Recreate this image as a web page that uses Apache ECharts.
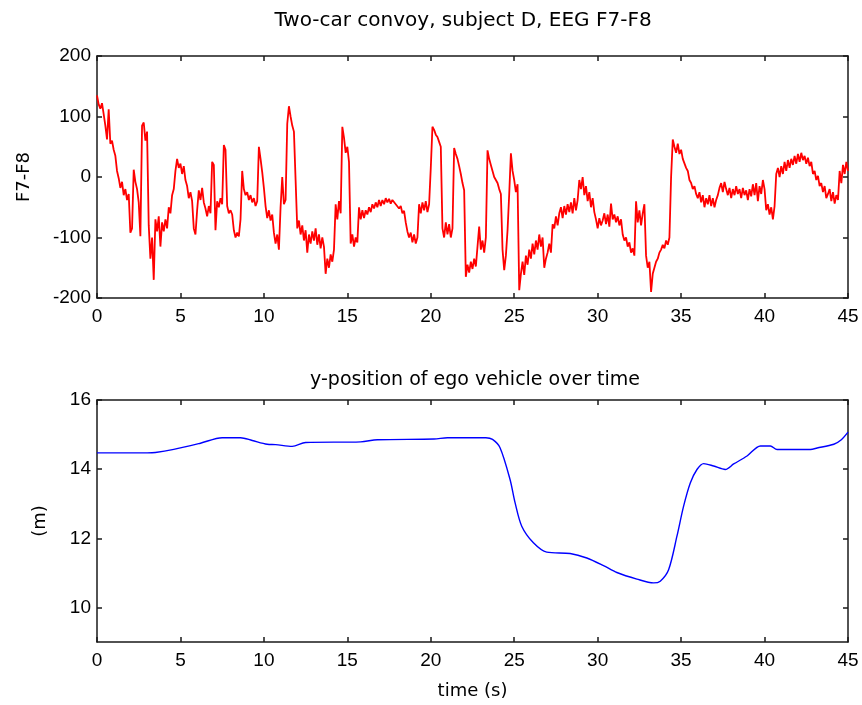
<!DOCTYPE html>
<html>
<head>
<meta charset="utf-8">
<script src="https://cdn.jsdelivr.net/npm/echarts@6/dist/echarts.min.js"></script>
<style>html,body{margin:0;padding:0;background:#fff;}#c{width:862px;height:705px;}</style>
</head>
<body>
<div id="c"></div>
<script>
// ---- data ----
var topTitle = 'Two-car convoy, subject D, EEG F7-F8';
var bottomTitle = 'y-position of ego vehicle over time';
var xTicks = [0, 5, 10, 15, 20, 25, 30, 35, 40, 45];
var eegTicks = [-200, -100, 0, 100, 200];
var posTicks = [10, 12, 14, 16];

// EEG F7-F8 samples, one every 0.1 s (one row per second)
var eegStep = 0.1;
var eegValues = [
  135, 120, 113, 122, 104, 85, 62, 112, 55, 60,
  45, 35, 10, -2, -18, -8, -30, -20, -38, -28,
  -92, -85, 12, -8, -20, -42, -98, 85, 90, 60,
  75, -80, -135, -100, -170, -70, -90, -65, -115, -75,
  -90, -70, -85, -50, -60, -30, -20, 10, 30, 15,
  22, 5, 18, -5, -15, -35, -25, -40, -85, -95,
  -55, -22, -38, -18, -42, -52, -65, -48, -60, 25,
  20, -88, -40, -50, -35, -45, 53, 45, -48, -60,
  -55, -62, -88, -100, -92, -98, -70, 10, -20, -30,
  -25, -38, -30, -42, -35, -48, -40, 50, 30, 8,
  -18, -48, -68, -55, -72, -62, -92, -110, -95, -120,
  -50, 0, -45, -38, 88, 117, 100, 85, 75, -5,
  -85, -72, -95, -80, -105, -88, -125, -95, -110, -90,
  -105, -85, -112, -95, -118, -100, -115, -160, -135, -150,
  -128, -140, -120, -45, -70, -40, -60, 83, 65, 40,
  50, 25, -110, -95, -115, -100, -108, -50, -70, -55,
  -68, -55, -62, -50, -58, -45, -52, -42, -50, -38,
  -48, -38, -45, -35, -42, -36, -44, -38, -40, -45,
  -42, -52, -48, -60, -56, -75, -90, -100, -92, -108,
  -95, -110, -100, -45, -60, -42, -55, -40, -58, -45,
  15, 83, 78, 70, 66, 58, 50, -85, -100, -75,
  -95, -78, -100, -85, 48, 38, 30, 18, 5, -10,
  -22, -165, -145, -158, -140, -152, -135, -148, -115, -82,
  -120, -105, -125, -100, 44, 30, 20, 10, 0, -5,
  -10, -20, -28, -120, -154, -130, -88, -28, 39, 10,
  -5, -25, -12, -187, -160, -140, -162, -130, -145, -120,
  -135, -110, -128, -105, -120, -95, -115, -100, -150, -135,
  -125, -110, -125, -78, -85, -65, -80, -60, -50, -68,
  -48, -62, -45, -58, -42, -60, -35, -55, -38, -5,
  -20, 0, -30, -15, -40, -25, -50, -35, -58, -70,
  -85, -68, -80, -72, -60, -78, -62, -82, -44, -70,
  -62, -75, -65, -80, -70, -95, -105, -100, -115, -108,
  -125, -118, -130, -40, -75, -55, -80, -60, -45, -130,
  -150, -140, -190, -160, -150, -140, -135, -125, -120, -112,
  -118, -105, -112, -100, 0, 62, 50, 40, 55, 38,
  45, 30, 28, 15, 10, -5, -10, -20, -15, -28,
  -35, -25, -42, -30, -50, -35, -45, -30, -48, -35,
  -50, -38, -30, -18, -10, -25, -8, -20, -30, -18,
  -35, -20, -30, -15, -28, -20, -35, -18, -30, -22,
  -38, -20, -32, -12, -30, -10, -40, -15, -28, -5,
  -20, -55, -45, -62, -50, -70, -48, 5, 15, 0,
  18, 5, 25, 10, 28, 15, 30, 20, 35, 22,
  38, 25, 40, 28, 35, 22, 32, 18, 25, 5,
  10, -5, 2, -15, -10, -25, -15, -35, -28, -20,
  -40, -25, -44, -30, -38, 10, -10, 20, 5, 25,
  10
];

// y-position of ego vehicle (m)
var posTime = [0, 1, 2, 3, 3.5, 4.6, 6.2, 7.5, 8.6, 9.3, 10.2, 10.7, 11.7, 12.5, 15.8, 16.8, 20.2, 21, 23.3, 23.7, 24.15, 24.75, 25.05, 25.45, 26.15, 26.95, 28.35, 29.35, 30.35, 31.15, 32.35, 33.35, 33.75, 34.25, 34.75, 35.15, 35.55, 35.95, 36.35, 36.95, 37.65, 38.15, 38.95, 39.75, 40.35, 40.75, 42.75, 43.15, 44.15, 44.6, 45];
var posValue = [14.47, 14.47, 14.47, 14.47, 14.48, 14.57, 14.75, 14.91, 14.91, 14.83, 14.72, 14.71, 14.66, 14.77, 14.79, 14.85, 14.87, 14.91, 14.91, 14.86, 14.62, 13.7, 13.03, 12.35, 11.87, 11.6, 11.56, 11.43, 11.21, 11.01, 10.82, 10.71, 10.76, 11.09, 12.06, 12.93, 13.6, 13.99, 14.16, 14.09, 13.99, 14.15, 14.38, 14.67, 14.67, 14.57, 14.57, 14.61, 14.72, 14.85, 15.07];

// ---- build ----
var eegData = eegValues.map(function (v, i) { return [Math.round(i * eegStep * 10) / 10, v]; });
var posData = posTime.map(function (t, i) { return [t, posValue[i]]; });

var FONT = '"Liberation Sans", Arial, sans-serif';
var TFONT = '"DejaVu Sans", "Liberation Sans", sans-serif';
var axisColor = '#1a1a1a';
var lbl = { color: '#000', fontSize: 19, fontFamily: FONT };
var nameStyle = { color: '#000', fontSize: 18, fontFamily: TFONT };

function xAx(grid, pos, showLabel, name) {
  var a = {
    type: 'value', gridIndex: grid, position: pos, min: 0, max: 45, interval: 5,
    axisLine: { show: true, onZero: false, lineStyle: { color: axisColor, width: 1.5 } },
    axisTick: { show: true, inside: true, length: 5, customValues: xTicks, lineStyle: { color: axisColor, width: 1.5 } },
    axisLabel: Object.assign({ show: showLabel, margin: 9, customValues: xTicks }, lbl),
    splitLine: { show: false }
  };
  if (name) {
    a.name = name; a.nameLocation = 'middle'; a.nameGap = 40;
    a.nameTextStyle = nameStyle;
  }
  return a;
}
function yAx(grid, pos, showLabel, min, max, ticks, name, gap) {
  var a = {
    type: 'value', gridIndex: grid, position: pos, min: min, max: max,
    axisLine: { show: true, onZero: false, lineStyle: { color: axisColor, width: 1.5 } },
    axisTick: { show: true, inside: true, length: 5, customValues: ticks, lineStyle: { color: axisColor, width: 1.5 } },
    axisLabel: Object.assign({ show: showLabel, margin: 6, customValues: ticks }, lbl),
    splitLine: { show: false }
  };
  if (name) {
    a.name = name; a.nameLocation = 'middle'; a.nameGap = gap;
    a.nameTextStyle = nameStyle;
  }
  return a;
}

var chart = echarts.init(document.getElementById('c'), null, { renderer: 'canvas' });
chart.setOption({
  backgroundColor: '#ffffff',
  animation: false,
  title: [
    { text: topTitle, left: 458, top: 6, textAlign: 'center',
      textStyle: { color: '#000', fontSize: 20, fontWeight: 'normal', fontFamily: TFONT } },
    { text: bottomTitle, left: 470, top: 366, textAlign: 'center',
      textStyle: { color: '#000', fontSize: 19, fontWeight: 'normal', fontFamily: TFONT } }
  ],
  grid: [
    { left: 97, top: 56, width: 751, height: 242 },
    { left: 97, top: 400, width: 751, height: 242 }
  ],
  xAxis: [
    xAx(0, 'bottom', true),
    xAx(0, 'top', false),
    xAx(1, 'bottom', true, 'time (s)'),
    xAx(1, 'top', false)
  ],
  yAxis: [
    yAx(0, 'left', true, -200, 200, eegTicks, 'F7-F8', 64),
    yAx(0, 'right', false, -200, 200, eegTicks),
    yAx(1, 'left', true, 9, 16, posTicks, '(m)', 48),
    yAx(1, 'right', false, 9, 16, posTicks)
  ],
  series: [
    { type: 'line', xAxisIndex: 0, yAxisIndex: 0, data: eegData, showSymbol: false,
      lineStyle: { color: '#ff0000', width: 1.8 }, clip: true },
    { type: 'line', xAxisIndex: 2, yAxisIndex: 2, data: posData, showSymbol: false, smooth: 0.3,
      lineStyle: { color: '#0000ff', width: 1.4 }, clip: true }
  ]
});
</script>
</body>
</html>
